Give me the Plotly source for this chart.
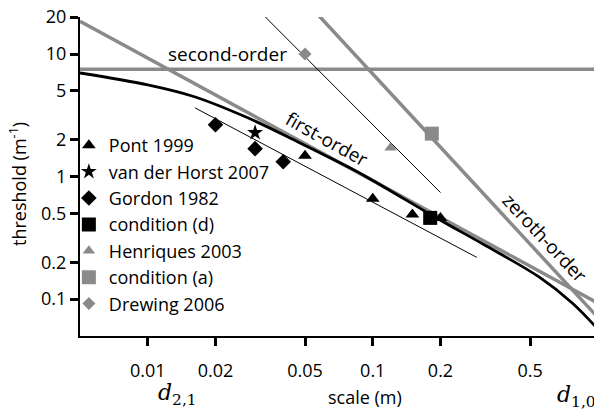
import numpy as np
import plotly.graph_objects as go

# ---- data ----
second_x = [0.005, 1.0]
second_y = [7.52, 7.52]
first_x = [0.005, 1.0]
first_y = [18.5, 0.093]
zeroth_x = [0.057, 1.0]
zeroth_y = [21.0, 0.071]
fit_upper_x = [0.033, 0.2]
fit_upper_y = [20.4, 0.74]
fit_lower_x = [0.0162, 0.29]
fit_lower_y = [3.64, 0.219]
curve_x = [0.005, 0.01, 0.016, 0.028, 0.047, 0.079, 0.1, 0.2, 0.31, 0.55, 0.77, 1.0]
curve_y = [7.0, 5.6, 4.5, 3.0, 1.9, 1.18, 0.93, 0.44, 0.28, 0.151, 0.093, 0.057]

pont_x = [0.05, 0.1, 0.15, 0.2]
pont_y = [1.48, 0.66, 0.49, 0.46]
horst_x = [0.03]
horst_y = [2.28]
gordon_x = [0.02, 0.03, 0.04]
gordon_y = [2.65, 1.69, 1.32]
cond_d_x = [0.18]
cond_d_y = [0.46]
henr_x = [0.12]
henr_y = [1.72]
cond_a_x = [0.183]
cond_a_y = [2.24]
drew_x = [0.05]
drew_y = [10.0]

x_ticks = [0.01, 0.02, 0.05, 0.1, 0.2, 0.5, 1]
y_ticks = [0.1, 0.2, 0.5, 1, 2, 5, 10, 20]

GRAY = "#8a8a8a"

fig = go.Figure()

def line(x, y, color, width, shape="linear"):
    fig.add_trace(go.Scatter(x=x, y=y, mode="lines", line=dict(color=color, width=width, shape=shape),
                             showlegend=False))

line(second_x, second_y, GRAY, 3.5)
line(first_x, first_y, GRAY, 3.5)
line(zeroth_x, zeroth_y, GRAY, 3.5)
line(curve_x, curve_y, "black", 2.8, "spline")
line(fit_upper_x, fit_upper_y, "black", 1)
line(fit_lower_x, fit_lower_y, "black", 1)

def pts(x, y, name, symbol, color, size):
    fig.add_trace(go.Scatter(x=x, y=y, mode="markers", name=name,
                             marker=dict(symbol=symbol, color=color, size=size)))

pts(pont_x, pont_y, "Pont 1999", "triangle-up", "black", 12)
pts(horst_x, horst_y, "van der Horst 2007", "star", "black", 12)
pts(gordon_x, gordon_y, "Gordon 1982", "diamond", "black", 12)
pts(cond_d_x, cond_d_y, "condition (d)", "square", "black", 14)
pts(henr_x, henr_y, "Henriques 2003", "triangle-up", GRAY, 11)
pts(cond_a_x, cond_a_y, "condition (a)", "square", GRAY, 14)
pts(drew_x, drew_y, "Drewing 2006", "diamond", GRAY, 10)

fig.update_layout(
    width=602, height=411,
    font=dict(size=18, color="black"),
    margin=dict(l=72, r=12, t=9, b=83, autoexpand=False),
    paper_bgcolor="white", plot_bgcolor="white",
    xaxis=dict(type="log", range=[np.log10(0.005), 0.001], showline=True, linecolor="black",
               linewidth=2, ticks="outside", ticklen=8, tickwidth=3, tickcolor="black",
               showgrid=True, gridcolor="rgba(255,255,255,0)", tickvals=x_ticks,
               ticklabelstandoff=9, ticklabeloverflow="allow"),
    yaxis=dict(type="log", range=[np.log10(0.05), np.log10(20) + 0.001], showline=True,
               linecolor="black", linewidth=2, ticks="outside", ticklen=8, tickwidth=3,
               tickcolor="black", showgrid=True, gridcolor="rgba(255,255,255,0)",
               tickvals=y_ticks, ticklabeloverflow="allow"),
    legend=dict(x=-0.0215, y=(336 - 127) / 319, xanchor="left", yanchor="top",
                bgcolor="rgba(0,0,0,0)"),
)

def ann(x, y, text, size=18, angle=0, ref="paper", family=None):
    font = dict(size=size, color="black")
    if family:
        font["family"] = family
    fig.add_annotation(x=x, y=y, text=text, showarrow=False, font=font, textangle=angle,
                       xref=ref if ref == "paper" else "x", yref=ref if ref == "paper" else "y",
                       xanchor="center", yanchor="middle")

ann(np.log10(0.0227), np.log10(10.0), "second-order", size=19, ref="data")
ann(np.log10(0.0625), np.log10(2.04), "first-order", size=19, angle=29, ref="data")
ann(np.log10(0.581), np.log10(0.313), "zeroth-order", size=19, angle=47, ref="data")
ann((365 - 80) / 518, -(397 - 336) / 319, "scale (m)")
ann((18 - 80) / 518, (336 - 184) / 319, "threshold (m<sup>-1</sup>)", angle=-90)
ann((177 - 80) / 518, -(394 - 336) / 319, "<i>d</i><sub>2,1</sub>", size=22, family="DejaVu Serif")
ann((576 - 80) / 518, -(396 - 336) / 319, "<i>d</i><sub>1,0</sub>", size=22, family="DejaVu Serif")

fig.write_html("out.html")
